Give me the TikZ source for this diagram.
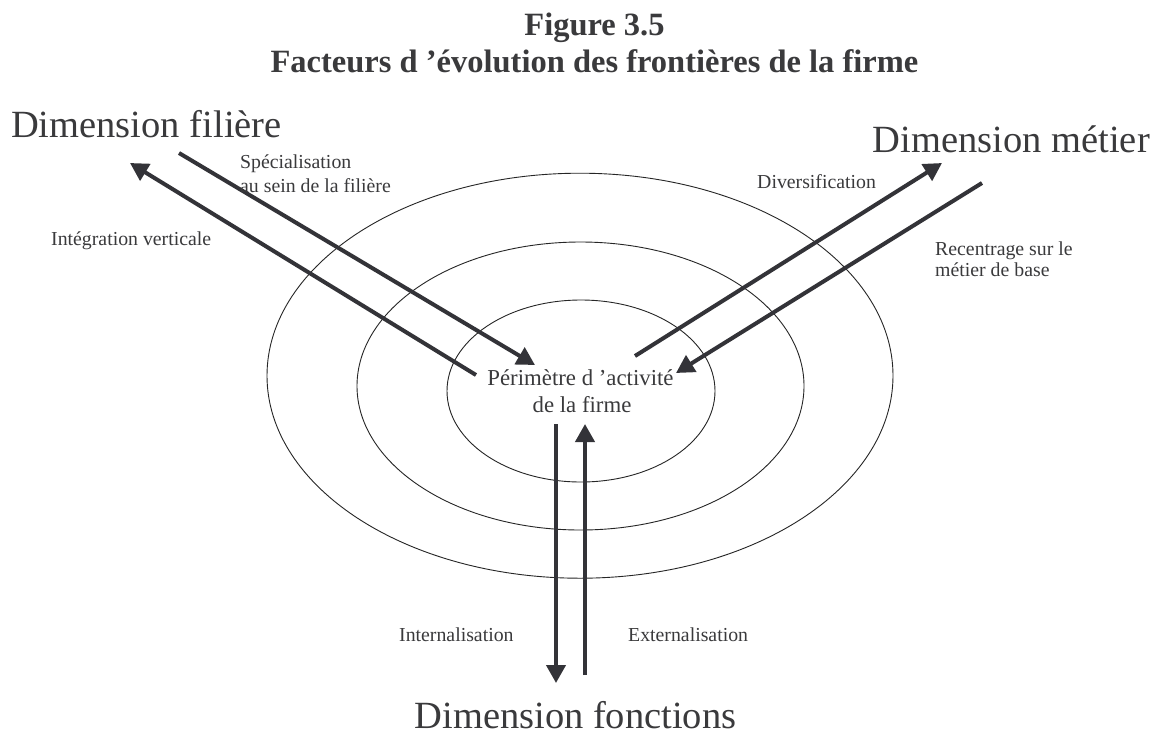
\documentclass[tikz,border=0pt]{standalone}
\usepackage{fontspec}
\setmainfont{Liberation Serif}
\usetikzlibrary{arrows.meta}
\definecolor{ink}{RGB}{51,51,56}
\definecolor{txt}{RGB}{58,58,60}
\begin{document}
\begin{tikzpicture}[x=1pt,y=-1pt,
  ring/.style={draw=black!85, line width=0.9pt},
  flow/.style={draw=ink, line width=4pt, -{Triangle[length=18pt,width=19pt]}},
  lab/.style={inner sep=0pt, text=txt, font=\fontsize{19.8}{23}\selectfont},
  midlab/.style={inner sep=0pt, text=txt, font=\fontsize{22.8}{27}\selectfont},
  dimlab/.style={inner sep=0pt, text=txt, font=\fontsize{38.5}{44}\selectfont},
  ttl/.style={inner sep=0pt, text=txt, font=\bfseries\fontsize{32.5}{37}\selectfont}]
\useasboundingbox (0,0) rectangle (1157,740);
\fill[white] (0,0) rectangle (1157,740);

% title
\node[ttl, anchor=base] (t1) at (594.5,35) {Figure 3.5};
\node[ttl, anchor=base] (t2) at (594.5,72) {Facteurs d ’évolution des frontières de la firme};

% rings
\draw[ring] (580,375.7) ellipse [x radius=313, y radius=202.5];
\draw[ring] (580.5,386) ellipse [x radius=223.5, y radius=144];
\draw[ring] (581,391) ellipse [x radius=134, y radius=91];

% dimension labels
\node[dimlab, anchor=base west] (dfil) at (11,137) {Dimension filière};
\node[dimlab, anchor=base east] (dmet) at (1150,152) {Dimension métier};
\node[dimlab, anchor=base] (dfon) at (575.5,728) {Dimension fonctions};

% centre label
\node[midlab, anchor=base] (c1) at (580.5,385) {Périmètre d ’activité};
\node[midlab, anchor=base] (c2) at (582,412) {de la firme};

% arrow end points
\coordinate (a1s) at (476,375);  \coordinate (a1e) at (130,163);
\coordinate (a2s) at (179,153);  \coordinate (a2e) at (535,365);
\coordinate (a3s) at (635,356);  \coordinate (a3e) at (942,163);
\coordinate (a4s) at (982,183);  \coordinate (a4e) at (676,373);
\coordinate (a5s) at (556,424);  \coordinate (a5e) at (556,683);
\coordinate (a6s) at (585,675);  \coordinate (a6e) at (585,424);

\draw[flow] (a1s) -- (a1e);
\draw[flow] (a2s) -- (a2e);
\draw[flow] (a3s) -- (a3e);
\draw[flow] (a4s) -- (a4e);
\draw[flow] (a5s) -- (a5e);
\draw[flow] (a6s) -- (a6e);

% arrow labels
\node[lab, anchor=base west] (l1) at (51,245) {Intégration verticale};
\node[lab, anchor=base west] (l2a) at (240,168) {Spécialisation};
\node[lab, anchor=base west] (l2b) at (240,192) {au sein de la filière};
\node[lab, anchor=base west] (l3) at (757,188) {Diversification};
\node[lab, anchor=base west] (l4a) at (935,255) {Recentrage sur le};
\node[lab, anchor=base west] (l4b) at (935,276) {métier de base};
\node[lab, anchor=base west] (l5) at (399,641) {Internalisation};
\node[lab, anchor=base west] (l6) at (628,641) {Externalisation};
\end{tikzpicture}
\end{document}
